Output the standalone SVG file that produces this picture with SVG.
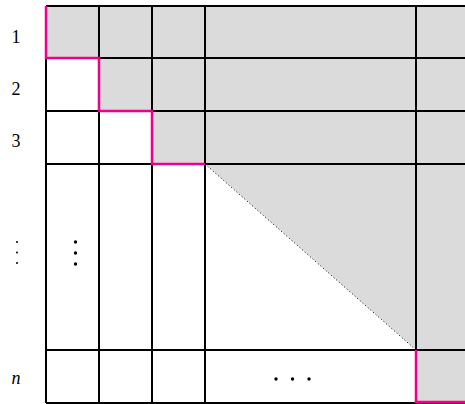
<svg xmlns="http://www.w3.org/2000/svg" width="465" height="404" viewBox="0 0 465 404">
<style>
.lbl{font-family:"Liberation Serif","DejaVu Serif",serif;font-size:18px;fill:#000;text-anchor:middle}
.grid{stroke:#000;stroke-width:2;fill:none}
.mag{stroke:#EC008C;stroke-width:2.5;fill:none}
.gray{fill:#DBDBDB;stroke:none}
</style>
<rect width="465" height="404" fill="#fff"/>
<g id="shade">
<path class="gray" d="M46,6 H465 V403 H416 V350 L205,164 H152 V111 H99 V58 H46 Z"/>
</g>
<g id="diagonal">
<line x1="205" y1="164" x2="416" y2="350" stroke="#000" stroke-width="1" stroke-dasharray="1 2.5"/>
</g>
<g id="grid">
<path class="grid" d="M46,6 H465 M46,58 H465 M46,111 H465 M46,164 H465 M46,350 H465 M46,403 H465 M46,6 V403 M99,6 V403 M152,6 V403 M205,6 V403 M416,6 V403"/>
</g>
<g id="staircase">
<path class="mag" d="M46,6 V58 H99 V111 H152 V164 H205"/>
<path class="mag" d="M416,350 V402 H465"/>
</g>
<g id="labels">
<text class="lbl" x="16" y="43">1</text>
<text class="lbl" x="16" y="95">2</text>
<text class="lbl" x="16" y="147">3</text>
<text class="lbl" x="16" y="384" font-style="italic">n</text>
<circle cx="17" cy="242" r="1"/>
<circle cx="17" cy="252.5" r="1"/>
<circle cx="17" cy="263" r="1"/>
</g>
<g id="dots">
<circle cx="75.5" cy="242" r="1.7"/>
<circle cx="75.5" cy="253" r="1.7"/>
<circle cx="75.5" cy="264" r="1.7"/>
<circle cx="276" cy="379" r="1.7"/>
<circle cx="292.5" cy="379" r="1.7"/>
<circle cx="309" cy="379" r="1.7"/>
</g>
</svg>
